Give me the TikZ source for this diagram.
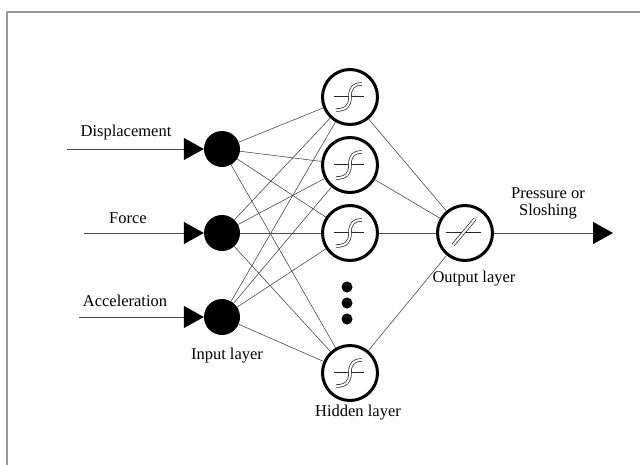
\documentclass[tikz,border=0pt]{standalone}
\usepackage{fontspec}
\setmainfont{Liberation Serif}
\usetikzlibrary{arrows.meta}
\begin{document}
\begin{tikzpicture}[x=1pt,y=-1pt,
  inp/.style={circle,fill=black,minimum size=36pt,inner sep=0pt},
  hid/.style={circle,draw=black,line width=3pt,fill=white,minimum size=55pt,inner sep=0pt},
  dotn/.style={circle,fill=black,minimum size=11pt,inner sep=0pt},
  wire/.style={draw=black!70,line width=0.6pt},
  feed/.style={draw=black!70,line width=0.8pt,-{Triangle[length=20pt,width=22pt,color=black]}},
  lbl/.style={font=\fontsize{16.5}{18}\selectfont,inner sep=0pt,anchor=center},
  sym/.style={draw=black!85,line width=0.7pt,double=white,double distance=2pt}
]
\useasboundingbox (0,0) rectangle (640,464);
\fill[white] (0,0) rectangle (640,464);
\draw[black!40,line width=1.5pt] (7,470) -- (7,12) -- (650,12);

% input nodes
\node[inp] (i1) at (222,149) {};
\node[inp] (i2) at (222,233) {};
\node[inp] (i3) at (222,317) {};
% hidden nodes
\node[hid] (h1) at (350,97) {};
\node[hid] (h2) at (350,165) {};
\node[hid] (h3) at (350,233) {};
\node[hid] (h4) at (350,373) {};
% output
\node[hid] (o) at (465,233) {};
% dots
\node[dotn] (d1) at (347,287) {};
\node[dotn] (d2) at (347,303) {};
\node[dotn] (d3) at (347,319) {};

% input feeds
\coordinate (s1) at (67,149);
\coordinate (s2) at (84,233);
\coordinate (s3) at (79,317);
\coordinate (e) at (613,233);
\draw[feed] (s1) -- (i1.west);
\draw[feed] (s2) -- (i2.west);
\draw[feed] (s3) -- (i3.west);
\draw[feed] (o.east) -- (e);

% connections
\foreach \i in {i1,i2,i3}{
  \foreach \h in {h1,h2,h3,h4}{
    \path[wire] (\i) -- (\h);
  }
}
\foreach \h in {h1,h2,h3,h4}{
  \path[wire] (\h) -- (o);
}

% sigmoid symbols
\foreach \h in {h1,h2,h3,h4}{
  \begin{scope}[shift={(\h.center)}]
    \draw[sym] (-16,0.5) -- (14,0.5);
    \draw[sym] (-14,13) .. controls (-4,13) and (0,9) .. (0,0) .. controls (0,-9) and (3,-13) .. (12,-13);
  \end{scope}
}
\begin{scope}[shift={(o.center)}]
  \draw[sym] (-19,0.5) -- (16,0.5);
  \draw[sym] (-12,12) -- (10,-14);
\end{scope}

% labels
\node[lbl] (t1) at (126,133) {Displacement};
\node[lbl] (t2) at (128,218) {Force};
\node[lbl] (t3) at (125,301) {Acceleration};
\node[lbl] (t4) at (227,356) {Input layer};
\node[lbl] (t5) at (358,413) {Hidden layer};
\node[lbl] (t6) at (474,279) {Output layer};
\node[lbl,align=center] (t7) at (548,203) {Pressure or\\[-1pt]Sloshing};
\end{tikzpicture}
\end{document}
